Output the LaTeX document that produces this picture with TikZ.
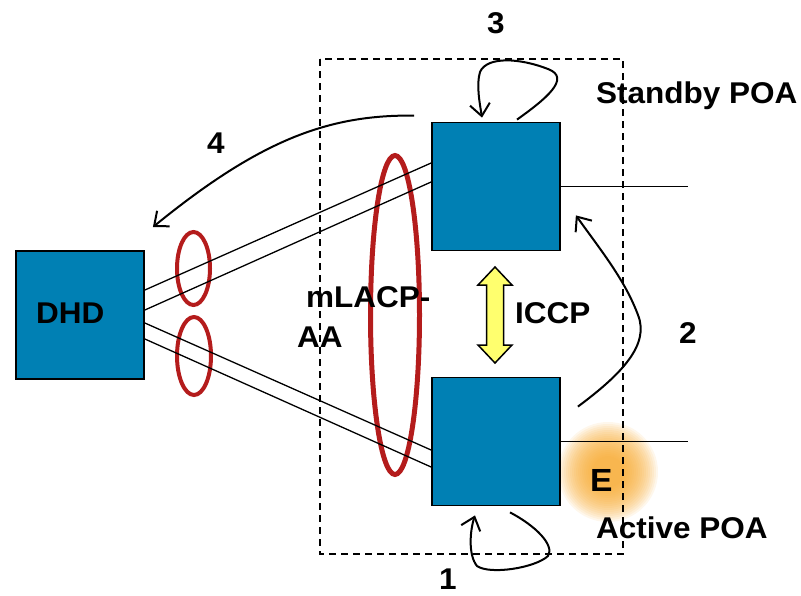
\documentclass[tikz,border=0pt]{standalone}
\usepackage{fontspec}
\setmainfont[FakeStretch=1.05]{Liberation Sans}
\usetikzlibrary{%
		arrows.meta%
		,calc%
	}
\definecolor{boxblue}{RGB}{0,128,180}
\definecolor{ringred}{RGB}{180,28,28}
\definecolor{iccpyellow}{RGB}{255,255,110}
\definecolor{glow}{RGB}{247,166,40}

\begin{document}
\begin{tikzpicture}[x=1pt, y=-1pt,
		poa/.style={draw, line width=1.8pt, fill=boxblue, minimum width=128pt, minimum height=128pt, inner sep=0pt},
		link/.style={line width=1.3pt},
		ring/.style={draw=ringred, line width=4pt},
		flow/.style={line width=2pt, -{Straight Barb[length=12pt, width=20pt]}},
		lbl/.style={inner sep=0pt, anchor=base west, font=\bfseries\fontsize{30}{36}\selectfont}]
			\useasboundingbox (0,0) rectangle (801,595);
			
			\foreach \r in {16,18,...,50}{
				\fill[glow, opacity=0.09] (608,472) circle (\r);
			}
			
			\draw[line width=1.3pt, dash pattern=on 7pt off 5pt] (320,59) rectangle (623,554);
			
			\node[poa] (dhd) at (80,315) {};
			\node[poa] (standby) at (496,186.5) {};
			\node[poa] (active) at (496,441.5) {};
			
			\draw[ring] (193.5,268.5) ellipse [x radius=16.5, y radius=36.5];
			\draw[ring] (194,356) ellipse [x radius=17, y radius=39];
			\draw[ring, line width=5pt] (395,315) ellipse [x radius=24.5, y radius=159.5];
			
			\foreach \a/\b/\n in {-25/-23.5/standby, -5/-4.5/standby, 8/8.5/active, 24/25.5/active}{
				\draw[link] ($(dhd.east)+(0,\a)$) -- ($(\n.west)+(0,\b)$);
			}
			\coordinate (standbyout) at (688,186.5);
			\coordinate (activeout) at (688,441.5);
			\draw[link] (standby.east) -- (standbyout);
			\draw[link] (active.east) -- (activeout);
			
			\coordinate (iccp) at (495,315);
			\draw[line width=1.5pt, fill=iccpyellow] (iccp) ++(0,-48) -- ++(17,18) -- ++(-8.5,0) -- ++(0,60) -- ++(8.5,0) -- ++(-17,18) -- ++(-17,-18) -- ++(8.5,0) -- ++(0,-60) -- ++(-8.5,0) -- cycle;
			
			% loops and moves
			\draw[flow] ($(standby.north)+(21,-2)$) .. controls +(28,-20) and +(24,9) .. (548,69) .. controls +(-28,-11) and +(7,-16) .. (480,72) .. controls +(-4,13) and +(-2,-13) .. ($(standby.north)+(-14,-4)$);
			\draw[flow] ($(active.south)+(14,6)$) .. controls +(25,13) and +(7,-11) .. (548,556) .. controls +(-13,12) and +(13,9) .. (477,566) .. controls +(-9,-11) and +(-5,15) .. ($(active.south)+(-21,9)$);
			\draw[flow] ($(active.north east)+(17,30)$) .. controls +(43,-32) and +(12,30) .. (638,315) .. controls +(-13,-35) and +(25,35) .. ($(standby.south east)+(15,-36)$);
			\draw[flow] ($(standby.north west)+(-17,-6)$) .. controls +(-85,-1) and +(108,-88) .. ($(dhd.north east)+(8,-23)$);
			
			\node[lbl] (dhdlbl) at (36,323) {DHD};
			\node[lbl] (three) at (487,33) {3};
			\node[lbl] (standbylbl) at (596,103) {Standby POA};
			\node[lbl] (four) at (207,153) {4};
			\node[lbl] (mlacp) at (306,307) {mLACP-};
			\node[lbl] (aa) at (297,347) {AA};
			\node[lbl] (iccplbl) at (515,323) {ICCP};
			\node[lbl] (two) at (679,343) {2};
			\node[lbl, font=\bfseries\fontsize{32}{38}\selectfont] (e) at (590,491) {E};
			\node[lbl] (activelbl) at (596,538) {Active POA};
			\node[lbl] (one) at (439,589) {1};
		\end{tikzpicture}
\end{document}
